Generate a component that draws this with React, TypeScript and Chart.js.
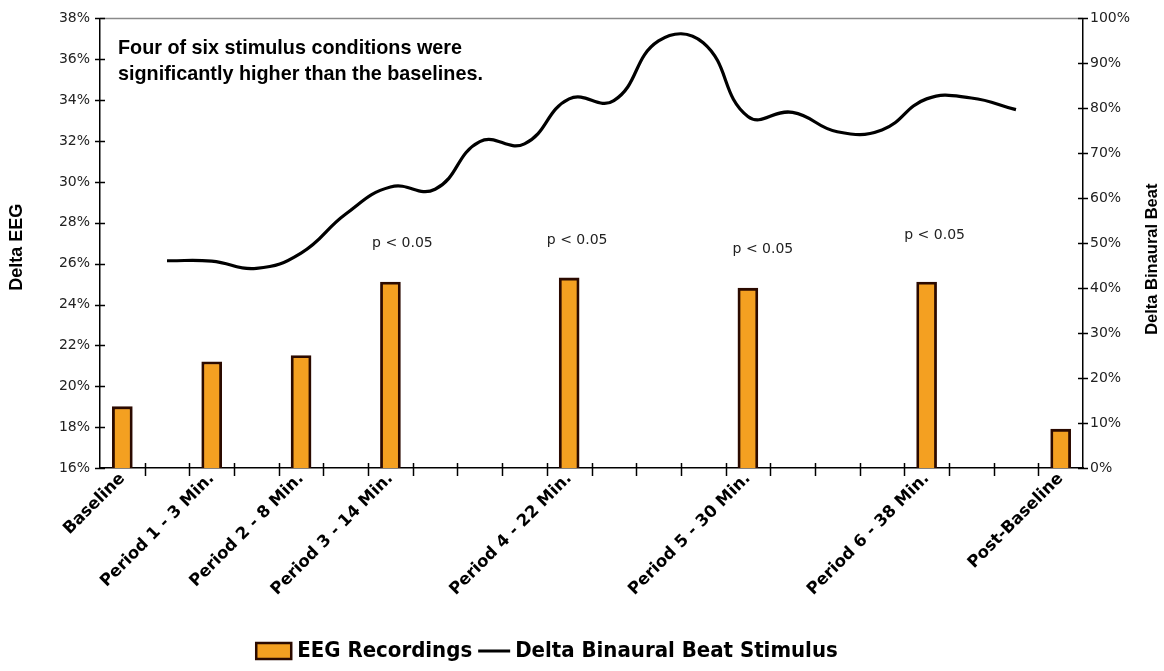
import React, { useEffect, useRef } from 'react';
import { Chart, registerables } from 'chart.js';

Chart.register(...registerables);

// ---- data ----
const categories = [
  'Baseline', '', 'Period 1 - 3 Min.', '', 'Period 2 - 8 Min.', '', 'Period 3 - 14 Min.', '', '', '',
  'Period 4 - 22 Min.', '', '', '', 'Period 5 - 30 Min.', '', '', '', 'Period 6 - 38 Min.', '', '', 'Post-Baseline',
];
const eegRecordings = [
  19.0, null, 21.2, null, 21.5, null, 25.1, null, null, null,
  25.3, null, null, null, 24.8, null, null, null, 25.1, null, null, 17.9,
];
const binauralStimulus = [
  null, 46.1, 46.0, 44.4, 47.8, 56.5, 62.5, 62.0, 72.6, 72.1,
  82.1, 81.7, 95.0, 94.6, 78.2, 79.1, 74.8, 75.2, 82.1, 82.3, 79.7, null,
];
const leftAxisRange = [16, 38, 2];
const rightAxisRange = [0, 100, 10];
const significanceText = 'p < 0.05';
const significantIndices = [6, 10, 14, 18];
const significanceLevels = [27.0, 27.15, 26.7, 27.4];
const noteLines = ['Four of six stimulus conditions were', 'significantly higher than the baselines.'];
const leftTitle = 'Delta EEG';
const rightTitle = 'Delta Binaural Beat';
const barLabel = 'EEG Recordings';
const lineLabel = 'Delta Binaural Beat Stimulus';

// ---- styles ----
const BAR_FILL = '#F4A021';
const BAR_EDGE = '#2B0A00';
const sigOffsets = [12, 8, 15, 8];

const decorPlugin = {
  id: 'decor',
  afterDraw(chart: any) {
    const { ctx, chartArea, scales } = chart;
    const { left, right, top, bottom } = chartArea;
    const x = scales.x, y = scales.y, y1 = scales.y1;
    const seg = (x1: number, y1_: number, x2: number, y2: number) => {
      ctx.beginPath(); ctx.moveTo(x1, y1_); ctx.lineTo(x2, y2); ctx.stroke();
    };
    ctx.save();
    // top frame line
    ctx.strokeStyle = '#8a8a8a';
    ctx.lineWidth = 1.5;
    seg(left, top, right, top);
    // crossing tick marks
    ctx.strokeStyle = '#000';
    ctx.lineWidth = 1.5;
    y.ticks.forEach((t: any) => {
      const py = Math.round(y.getPixelForValue(t.value)) + 0.5;
      seg(left - 5, py, left + 5, py);
    });
    y1.ticks.forEach((t: any) => {
      const py = Math.round(y1.getPixelForValue(t.value)) + 0.5;
      seg(right - 5, py, right + 5, py);
    });
    for (let i = 1; i < categories.length; i++) {
      const px = Math.round((x.getPixelForValue(i - 1) + x.getPixelForValue(i)) / 2) + 0.5;
      seg(px, bottom - 5, px, bottom + 8);
    }
    // significance labels
    ctx.fillStyle = '#222';
    ctx.font = '14px "DejaVu Sans"';
    ctx.textAlign = 'center';
    ctx.textBaseline = 'middle';
    significantIndices.forEach((idx, k) => {
      ctx.fillText(significanceText, x.getPixelForValue(idx) + sigOffsets[k], y.getPixelForValue(significanceLevels[k]));
    });
    // note text
    ctx.fillStyle = '#000';
    ctx.font = 'bold 19.8px "Liberation Sans"';
    ctx.textAlign = 'left';
    ctx.textBaseline = 'alphabetic';
    ctx.fillText(noteLines[0], left + 18, top + 36);
    ctx.fillText(noteLines[1], left + 18, top + 62);
    // axis titles
    ctx.textAlign = 'center';
    ctx.textBaseline = 'middle';
    ctx.save();
    ctx.translate(17.5, (top + bottom) / 2 + 4);
    ctx.rotate(-Math.PI / 2);
    ctx.font = 'bold 18px "Liberation Sans"';
    ctx.fillText(leftTitle, 0, 0);
    ctx.restore();
    ctx.save();
    ctx.translate(chart.width - 12, (top + bottom) / 2 + 16);
    ctx.rotate(-Math.PI / 2);
    ctx.font = 'bold 16.5px "Liberation Sans"';
    ctx.fillText(rightTitle, 0, 0);
    ctx.restore();
    // legend
    ctx.font = 'bold 22px "DejaVu Sans Condensed"';
    ctx.textAlign = 'left';
    const w1 = ctx.measureText(barLabel).width;
    const w2 = ctx.measureText(lineLabel).width;
    const boxW = 35, boxH = 16, gap1 = 6, gap2 = 6, lineW = 32, gap3 = 5;
    const total = boxW + gap1 + w1 + gap2 + lineW + gap3 + w2;
    const cy = 651;
    let sx = 547 - total / 2;
    ctx.fillStyle = BAR_FILL;
    ctx.strokeStyle = BAR_EDGE;
    ctx.lineWidth = 2.5;
    ctx.fillRect(sx, cy - boxH / 2, boxW, boxH);
    ctx.strokeRect(sx, cy - boxH / 2, boxW, boxH);
    sx += boxW + gap1;
    ctx.fillStyle = '#000';
    ctx.fillText(barLabel, sx, cy);
    sx += w1 + gap2;
    ctx.strokeStyle = '#000';
    ctx.lineWidth = 3;
    seg(sx, cy, sx + lineW, cy);
    sx += lineW + gap3;
    ctx.fillText(lineLabel, sx, cy);
    ctx.restore();
  },
};

export default function App() {
  const canvasRef = useRef<HTMLCanvasElement | null>(null);

  useEffect(() => {
    document.body.style.margin = '0';
    const canvas = canvasRef.current;
    if (!canvas) return;
    Chart.defaults.font.family = '"DejaVu Sans"';
    const chart = new Chart(canvas, {
      type: 'bar',
      data: {
        labels: categories,
        datasets: [
          {
            type: 'line',
            label: lineLabel,
            data: binauralStimulus,
            yAxisID: 'y1',
            borderColor: '#000',
            backgroundColor: '#000',
            borderWidth: 3.2,
            pointRadius: 0,
            tension: 0.45,
            order: 0,
          } as any,
          {
            type: 'bar',
            label: barLabel,
            data: eegRecordings,
            yAxisID: 'y',
            backgroundColor: BAR_FILL,
            borderColor: BAR_EDGE,
            borderWidth: 2.8,
            borderSkipped: false,
            barThickness: 20,
            order: 1,
          } as any,
        ],
      },
      options: {
        animation: false,
        responsive: true,
        maintainAspectRatio: false,
        layout: { padding: { top: 15, bottom: 0, left: 0, right: 0 } },
        plugins: {
          legend: { display: false },
          tooltip: { enabled: false },
        },
        scales: {
          x: {
            type: 'category',
            offset: true,
            grid: { display: false, drawTicks: false, offset: true },
            border: { display: true, color: '#000', width: 1.5 },
            ticks: {
              autoSkip: false,
              maxRotation: 45,
              minRotation: 45,
              padding: 1,
              color: '#000',
              font: { family: '"DejaVu Sans"', size: 16.5, weight: 'bold' },
            },
            afterFit: (s: any) => { s.height = 203; },
          },
          y: {
            type: 'linear',
            position: 'left',
            min: leftAxisRange[0],
            max: leftAxisRange[1],
            grid: { display: false, drawTicks: false },
            border: { display: true, color: '#000', width: 1.5 },
            ticks: {
              stepSize: leftAxisRange[2],
              padding: 10,
              color: '#222',
              font: { size: 14 },
              callback: (v: any) => `${v}%`,
            },
            afterFit: (s: any) => { s.width = 100; },
          },
          y1: {
            type: 'linear',
            position: 'right',
            min: rightAxisRange[0],
            max: rightAxisRange[1],
            grid: { display: false, drawTicks: false },
            border: { display: true, color: '#000', width: 1.5 },
            ticks: {
              stepSize: rightAxisRange[2],
              padding: 7,
              color: '#222',
              font: { size: 14 },
              callback: (v: any) => `${v}%`,
            },
            afterFit: (s: any) => { s.width = 81; },
          },
        },
      },
      plugins: [decorPlugin],
    });
    return () => chart.destroy();
  }, []);

  return (
    <div style={{ position: 'relative', width: '1164px', height: '671px' }}>
      <canvas ref={canvasRef} />
    </div>
  );
}
